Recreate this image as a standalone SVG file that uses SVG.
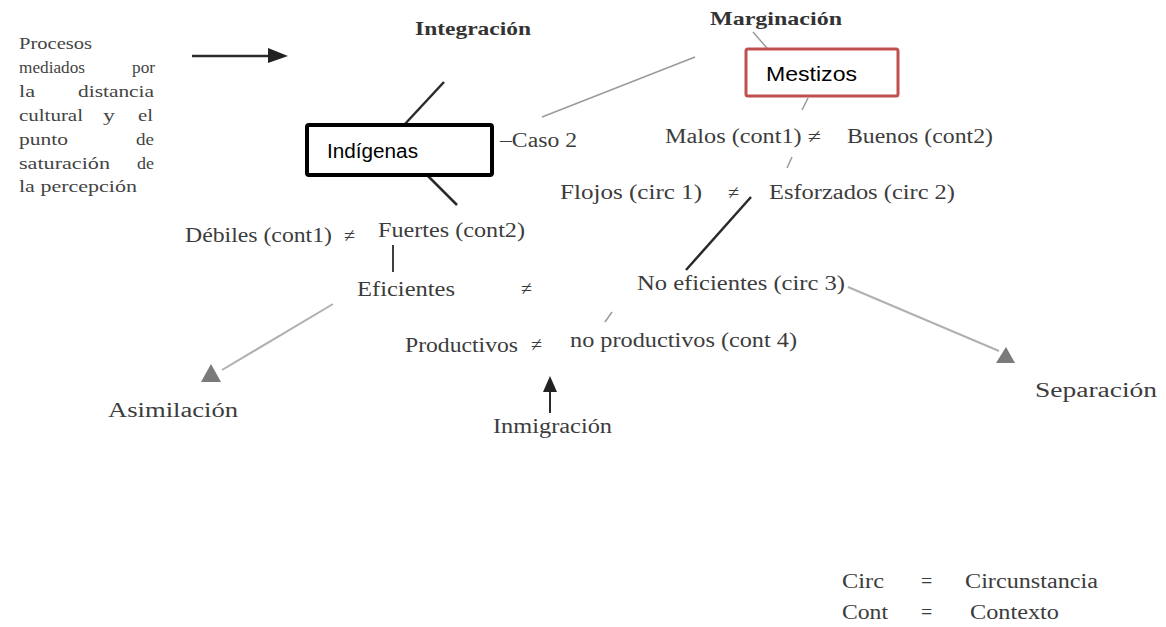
<svg xmlns="http://www.w3.org/2000/svg" width="1166" height="627" viewBox="0 0 1166 627">
<style>
.t{font-family:"Liberation Serif","Times New Roman",serif;font-size:20px;fill:#3c3c3c}
.p{font-family:"Liberation Serif","Times New Roman",serif;font-size:16px;fill:#444}
.b{font-family:"Liberation Serif","Times New Roman",serif;font-size:19px;font-weight:bold;fill:#333}
.s{font-family:"Liberation Sans",Arial,sans-serif;font-size:20px;fill:#000}
.dk{stroke:#2a2a2a;stroke-width:2.5;fill:none}
.lt{stroke:#9a9a9a;stroke-width:1.5;fill:none}
.gl{stroke:#b0b0b0;stroke-width:2;fill:none}
.tri{fill:#7a7a7a}
</style>
<rect width="1166" height="627" fill="#fff"/>
<g id="connectors">
<line class="dk" x1="192" y1="56" x2="270" y2="56"/>
<polygon points="268,48 288,56 268,63" fill="#222"/>
<line class="dk" x1="444" y1="82" x2="405" y2="124"/>
<line class="dk" x1="428" y1="176" x2="457" y2="205"/>
<line class="lt" x1="542" y1="117" x2="695" y2="57"/>
<line class="lt" x1="753" y1="32" x2="767" y2="48"/>
<line class="lt" x1="808" y1="98" x2="802" y2="110"/>
<line class="lt" x1="792" y1="157" x2="787" y2="168"/>
<line class="dk" x1="751" y1="197" x2="686" y2="270"/>
<line class="lt" x1="612" y1="312" x2="605" y2="322"/>
<line class="dk" x1="393" y1="245" x2="393" y2="272" style="stroke-width:1.8"/>
<line class="gl" x1="333" y1="304" x2="222" y2="370"/>
<polygon class="tri" points="211,364 221,382 201,382"/>
<line class="gl" x1="848" y1="287" x2="999" y2="351"/>
<polygon class="tri" points="1006,347 1015,363 996,363"/>
<line class="dk" x1="550" y1="390" x2="550" y2="413" style="stroke-width:2"/>
<polygon points="550,376 557,392 543,392" fill="#222"/>
</g>
<g id="procesos">
<text class="p" x="19" y="49" textLength="73" lengthAdjust="spacingAndGlyphs">Procesos</text>
<text class="p" x="19" y="73" textLength="66" lengthAdjust="spacingAndGlyphs">mediados</text><text class="p" x="132" y="73" textLength="23" lengthAdjust="spacingAndGlyphs">por</text>
<text class="p" x="19" y="97" textLength="16" lengthAdjust="spacingAndGlyphs">la</text><text class="p" x="78" y="97" textLength="76" lengthAdjust="spacingAndGlyphs">distancia</text>
<text class="p" x="19" y="121" textLength="64" lengthAdjust="spacingAndGlyphs">cultural</text><text class="p" x="103" y="121" textLength="12" lengthAdjust="spacingAndGlyphs">y</text><text class="p" x="138" y="121" textLength="15" lengthAdjust="spacingAndGlyphs">el</text>
<text class="p" x="19" y="145" textLength="49" lengthAdjust="spacingAndGlyphs">punto</text><text class="p" x="136" y="145" textLength="18" lengthAdjust="spacingAndGlyphs">de</text>
<text class="p" x="19" y="169" textLength="91" lengthAdjust="spacingAndGlyphs">saturación</text><text class="p" x="137" y="169" textLength="17" lengthAdjust="spacingAndGlyphs">de</text>
<text class="p" x="19" y="192" textLength="118" lengthAdjust="spacingAndGlyphs">la percepción</text>
</g>
<g id="integracion"><text class="b" x="415" y="35" textLength="116" lengthAdjust="spacingAndGlyphs">Integración</text></g>
<g id="marginacion"><text class="b" x="710" y="25" textLength="132" lengthAdjust="spacingAndGlyphs">Marginación</text></g>
<g id="indigenas">
<rect x="307" y="125" width="185" height="50" fill="#fff" stroke="#000" stroke-width="4" rx="2"/>
<text class="s" x="327" y="158" textLength="91" lengthAdjust="spacingAndGlyphs">Indígenas</text>
</g>
<g id="mestizos">
<rect x="746" y="49" width="152" height="47" fill="#fff" stroke="#c0504d" stroke-width="3" rx="2"/>
<text class="s" x="766" y="81" textLength="91" lengthAdjust="spacingAndGlyphs">Mestizos</text>
</g>
<g id="caso2"><text class="t" x="500" y="147" textLength="77" lengthAdjust="spacingAndGlyphs">–Caso 2</text></g>
<g id="malos"><text class="t" x="665" y="143" textLength="156" lengthAdjust="spacingAndGlyphs">Malos (cont1) ≠</text></g>
<g id="buenos"><text class="t" x="847" y="143" textLength="146" lengthAdjust="spacingAndGlyphs">Buenos (cont2)</text></g>
<g id="flojos"><text class="t" x="560" y="199" textLength="142" lengthAdjust="spacingAndGlyphs">Flojos  (circ 1)</text><text class="t" x="728" y="199">≠</text></g>
<g id="esforzados"><text class="t" x="769" y="199" textLength="186" lengthAdjust="spacingAndGlyphs">Esforzados (circ 2)</text></g>
<g id="debiles"><text class="t" x="185" y="242" textLength="147" lengthAdjust="spacingAndGlyphs">Débiles (cont1)</text><text class="t" x="344" y="242">≠</text></g>
<g id="fuertes"><text class="t" x="378" y="237" textLength="147" lengthAdjust="spacingAndGlyphs">Fuertes (cont2)</text></g>
<g id="eficientes"><text class="t" x="357" y="296" textLength="98" lengthAdjust="spacingAndGlyphs">Eficientes</text><text class="t" x="521" y="295">≠</text></g>
<g id="noeficientes"><text class="t" x="637" y="290" textLength="208" lengthAdjust="spacingAndGlyphs">No eficientes (circ 3)</text></g>
<g id="productivos"><text class="t" x="405" y="352" textLength="113" lengthAdjust="spacingAndGlyphs">Productivos</text><text class="t" x="531" y="351">≠</text></g>
<g id="noproductivos"><text class="t" x="570" y="347" textLength="227" lengthAdjust="spacingAndGlyphs">no productivos (cont 4)</text></g>
<g id="asimilacion"><text class="t" x="108" y="417" textLength="130" lengthAdjust="spacingAndGlyphs">Asimilación</text></g>
<g id="separacion"><text class="t" x="1035" y="397" textLength="122" lengthAdjust="spacingAndGlyphs">Separación</text></g>
<g id="inmigracion"><text class="t" x="493" y="433" textLength="119" lengthAdjust="spacingAndGlyphs">Inmigración</text></g>
<g id="legend">
<text class="t" x="842" y="588" textLength="42" lengthAdjust="spacingAndGlyphs">Circ</text>
<text class="t" x="921" y="588">=</text>
<text class="t" x="965" y="588" textLength="133" lengthAdjust="spacingAndGlyphs">Circunstancia</text>
<text class="t" x="842" y="619" textLength="46" lengthAdjust="spacingAndGlyphs">Cont</text>
<text class="t" x="921" y="619">=</text>
<text class="t" x="970" y="619" textLength="89" lengthAdjust="spacingAndGlyphs">Contexto</text>
</g>
</svg>
